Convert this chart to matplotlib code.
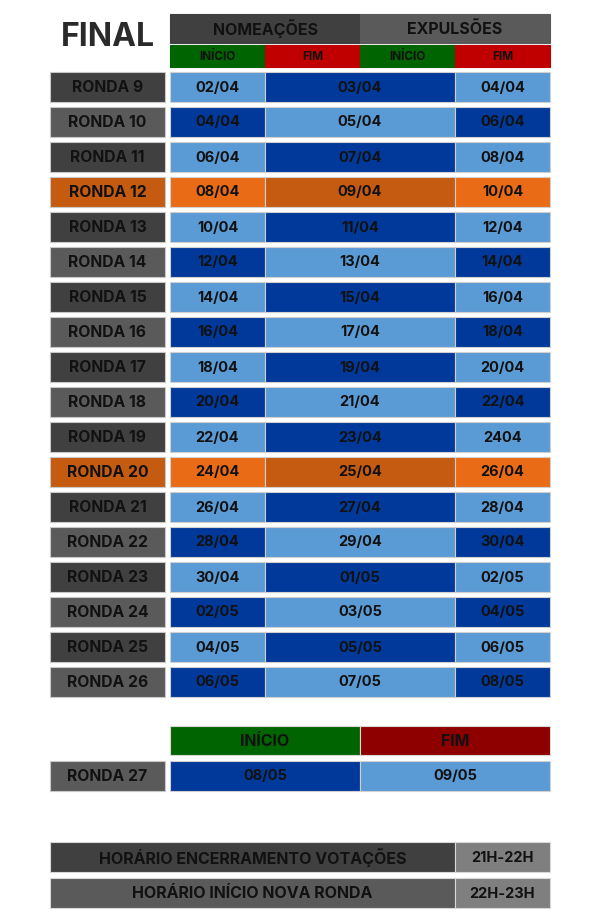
import matplotlib.pyplot as plt
from matplotlib.patches import Rectangle

plt.rcParams['font.family'] = ['Inter', 'DejaVu Sans']

# data
rondas = list(range(9, 27))
inicio_nom = ["02/04", "04/04", "06/04", "08/04", "10/04", "12/04", "14/04", "16/04", "18/04",
              "20/04", "22/04", "24/04", "26/04", "28/04", "30/04", "02/05", "04/05", "06/05"]
fim_nom = ["03/04", "05/04", "07/04", "09/04", "11/04", "13/04", "15/04", "17/04", "19/04",
           "21/04", "23/04", "25/04", "27/04", "29/04", "01/05", "03/05", "05/05", "07/05"]
fim_exp = ["04/04", "06/04", "08/04", "10/04", "12/04", "14/04", "16/04", "18/04", "20/04",
           "22/04", "2404", "26/04", "28/04", "30/04", "02/05", "04/05", "06/05", "08/05"]
destaque = [12, 20]

ronda_final = 27
final_datas = ["08/05", "09/05"]

horarios = ["HORÁRIO ENCERRAMENTO VOTAÇÕES", "HORÁRIO INÍCIO NOVA RONDA"]
horas = ["21H-22H", "22H-23H"]

# colours
LIGHT = "#5b9bd5"
DARK = "#00399a"
ORANGE = "#ea6b15"
ORANGE_D = "#c55a11"
GRAY_D = "#404040"
GRAY_M = "#5a5a5a"
GRAY_L = "#7f7f7f"
GREEN = "#006400"
RED = "#c00000"
RED_D = "#8e0000"
EDGE = "#d0d0d0"
TXT = "#111111"

fig = plt.figure(figsize=(6.01, 9.16), dpi=100, facecolor="white")
ax = fig.add_axes([0, 0, 1, 1])
ax.set_xlim(0, 601)
ax.set_ylim(916, 0)
ax.axis("off")

# column edges
LX0, LX1 = 50, 165
C = [170, 265, 360, 455, 550]


def cell(x0, x1, y, h, color, text="", size=10.5, edge=EDGE):
    ax.add_patch(Rectangle((x0, y), x1 - x0, h, facecolor=color, edgecolor=edge, lw=0.8))
    if text:
        ax.text((x0 + x1) / 2, y + h / 2 + 0.5, text, ha="center", va="center",
                fontsize=size, fontweight="bold", color=TXT)


# header
ax.text((LX0 + LX1) / 2, 38, "FINAL", ha="center", va="center", fontsize=23,
        fontweight="bold", color="#2a2a2a")
cell(C[0], C[2], 14, 29, GRAY_D, "NOMEAÇÕES", size=11.5, edge=GRAY_D)
cell(C[2], C[4], 14, 29, GRAY_M, "EXPULSÕES", size=11.5, edge=GRAY_M)
for i, (lab, col) in enumerate(zip(["INÍCIO", "FIM", "INÍCIO", "FIM"], [GREEN, RED, GREEN, RED])):
    cell(C[i], C[i + 1], 45, 22, col, lab, size=8.5, edge=col)

# rounds
Y0, PITCH, H = 72, 35, 30
for i, r in enumerate(rondas):
    y = Y0 + i * PITCH
    if r in destaque:
        lab_c, side, mid = ORANGE_D, ORANGE, ORANGE_D
    else:
        lab_c = GRAY_D if r % 2 else GRAY_M
        side, mid = (LIGHT, DARK) if r % 2 else (DARK, LIGHT)
    cell(LX0, LX1, y, H, lab_c, f"RONDA {r}", size=11.3, edge="#c8c8c8")
    cell(C[0], C[1], y, H, side, inicio_nom[i])
    cell(C[1], C[3], y, H, mid, fim_nom[i])
    cell(C[3], C[4], y, H, side, fim_exp[i])

# last round
cell(C[0], C[2], 726, 29, GREEN, "INÍCIO", size=11.5, edge="#d8d8d8")
cell(C[2], C[4], 726, 29, RED_D, "FIM", size=11.5, edge="#d8d8d8")
cell(LX0, LX1, 761, H, GRAY_M, f"RONDA {ronda_final}", size=11.3, edge="#c8c8c8")
cell(C[0], C[2], 761, H, DARK, final_datas[0])
cell(C[2], C[4], 761, H, LIGHT, final_datas[1])

# schedule
for j, (lab, hr) in enumerate(zip(horarios, horas)):
    y = 842 + j * 36
    cell(LX0, C[3], y, H, GRAY_D if j == 0 else GRAY_M, lab, size=11.5, edge="#d8d8d8")
    cell(C[3], C[4], y, H, GRAY_L, hr, size=10.5, edge="#d8d8d8")

fig.savefig("out.png", dpi=100, facecolor="white")
